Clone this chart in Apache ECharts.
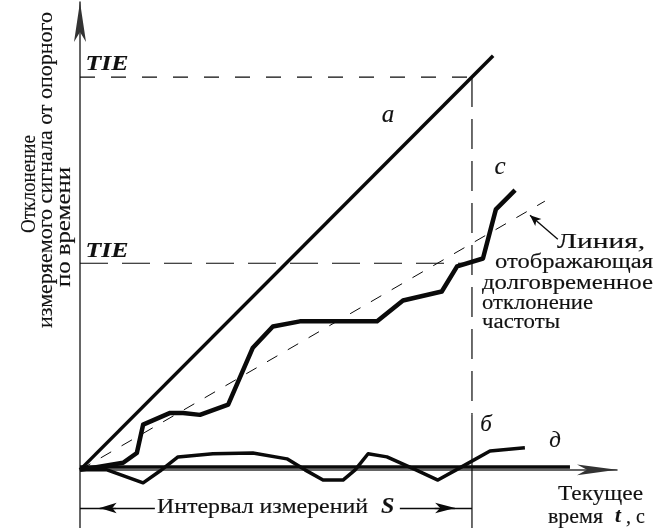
<!DOCTYPE html>
<html><head><meta charset="utf-8">
<script src="https://cdn.jsdelivr.net/npm/echarts@6/dist/echarts.min.js"></script>
<style>html,body{margin:0;padding:0;background:#fff}#c{width:656px;height:528px}</style>
</head><body><div id="c"></div>
<script>
// x: time in arbitrary units (measurement interval S = 10), y: time deviation units (TIE of line a = 10)
const lineA_x = [0, 10.54];
const lineA_y = [0, 10.54];
const curveC_x = [0, 1.10, 1.45, 1.61, 2.30, 2.63, 3.06, 3.78, 4.41, 4.92, 5.61, 7.58, 8.24, 9.23, 9.62, 10.28, 10.61, 11.10];
const curveC_y = [0, 0.18, 0.43, 1.15, 1.45, 1.45, 1.40, 1.66, 3.11, 3.65, 3.78, 3.78, 4.31, 4.54, 5.18, 5.38, 6.63, 7.12];
const curveD_x = [0, 0.69, 1.61, 2.04, 2.50, 3.39, 4.41, 5.28, 5.74, 6.20, 6.71, 7.02, 7.35, 7.83, 8.50, 9.13, 9.69, 10.46, 11.35];
const curveD_y = [0, 0, -0.33, -0.03, 0.33, 0.41, 0.43, 0.28, 0, -0.26, -0.26, 0, 0.41, 0.33, 0.03, -0.26, 0.05, 0.48, 0.56];
const lineB_x = [0, 12.5];
const lineB_y = [0.07, 0.07];
const drift_x = [0, 11.86];
const drift_y = [0, 6.84];
const intervalS = 10;
const tieLevels = [10, 5.26];
const xRange = [0, 13.70];
const yRange = [-1.48, 11.91];

function pts(xs, ys) { return xs.map((x, i) => [x, ys[i]]); }
const ink = '#0a0a0a';
const serif = '"Liberation Serif", "DejaVu Serif", serif';

const chart = echarts.init(document.getElementById('c'), null, { renderer: 'canvas' });

const measureCtx = document.createElement('canvas').getContext('2d');
function fitScale(text, fs, style, weight, target) {
  measureCtx.font = (style || 'normal') + ' ' + (weight || 'normal') + ' ' + fs + 'px ' + serif;
  const w = measureCtx.measureText(text).width;
  return target ? target / w : 1;
}
function T(text, x, y, o) {
  o = o || {};
  const fs = o.fs || 20;
  const sx = fitScale(text, fs, o.st, o.fw, o.w);
  const al = o.al || 'center';
  return {
    type: 'text', x: x, y: y, rotation: o.rot || 0, scaleX: sx, scaleY: 1, silent: true, z: 100,
    style: {
      text: text, fontFamily: serif, fontSize: fs, fontStyle: o.st || 'normal', fontWeight: o.fw || 'normal',
      fill: '#111', stroke: '#111', lineWidth: o.fw === 'bold' ? 0.1 : 0.15,
      textAlign: al, align: al, textVerticalAlign: 'middle', verticalAlign: 'middle'
    }
  };
}

const lineSeries = (name, data, width, type, z) => ({
  name: name, type: 'line', data: data, symbol: 'none', showSymbol: false, silent: true, z: z || 3,
  lineStyle: { color: ink, width: width, type: type || 'solid', cap: 'butt', join: 'round' }
});

const markY = -0.97;
const option = {
  animation: false,
  backgroundColor: '#fff',
  grid: { left: 80, right: 39, top: 2, bottom: 0 },
  xAxis: {
    type: 'value', min: xRange[0], max: xRange[1],
    axisLine: { show: true, onZero: true, symbol: ['none', 'arrow'], symbolSize: [8, 40], lineStyle: { color: '#333', width: 1.5 } },
    axisTick: { show: false }, axisLabel: { show: false }, splitLine: { show: false }
  },
  yAxis: {
    type: 'value', min: yRange[0], max: yRange[1],
    axisLine: { show: true, symbol: ['none', 'arrow'], symbolSize: [9, 40], lineStyle: { color: '#333', width: 1.5 } },
    axisTick: { show: false }, axisLabel: { show: false }, splitLine: { show: false }
  },
  series: [
    lineSeries('TIE a', [[0, tieLevels[0]], [intervalS, tieLevels[0]]], 1.2, [15, 16], 2),
    lineSeries('TIE c', [[0, tieLevels[1]], [intervalS, tieLevels[1]]], 1.2, [28, 14], 2),
    lineSeries('S dashed', [[intervalS, tieLevels[0]], [intervalS, 1.40]], 1.2, [30, 12], 2),
    Object.assign(lineSeries('S solid', [[intervalS, 1.40], [intervalS, yRange[0]]], 1.2, 'solid', 2), {
      markLine: {
        silent: true, animation: false, symbol: 'none', label: { show: false },
        lineStyle: { color: ink, width: 1.3, type: 'solid' },
        emphasis: { disabled: true },
        data: [
          [{ coord: [0, markY] }, { coord: [1.91, markY] }],
          [{ coord: [8.16, markY] }, { coord: [intervalS, markY] }],
          [{ coord: [0.92, markY], symbol: 'none' }, { coord: [0.50, markY], symbol: 'arrow', symbolSize: [8, 17] }],
          [{ coord: [9.05, markY], symbol: 'none' }, { coord: [9.57, markY], symbol: 'arrow', symbolSize: [8, 20] }],
          [{ coord: [12.19, 5.87], symbol: 'none' }, { coord: [11.48, 6.48], symbol: 'arrow', symbolSize: [7, 11] }]
        ]
      }
    }),
    lineSeries('drift', pts(drift_x, drift_y), 1, [12, 12], 2),
    lineSeries('б', pts(lineB_x, lineB_y), 3.5, 'solid', 4),
    lineSeries('a', pts(lineA_x, lineA_y), 3.5, 'solid', 5),
    lineSeries('c', pts(curveC_x, curveC_y), 4.5, 'solid', 5),
    lineSeries('д', pts(curveD_x, curveD_y), 3.5, 'solid', 5)
  ],
  graphic: [
    T('Отклонение', 30, 184, { rot: Math.PI / 2, w: 98 }),
    T('измеряемого сигнала от опорного', 47, 170, { rot: Math.PI / 2, w: 316 }),
    T('по времени', 65, 227, { rot: Math.PI / 2, w: 120 }),
    T('TIE', 107, 65, { st: 'italic', fw: 'bold', fs: 21, w: 43 }),
    T('TIE', 107, 252, { st: 'italic', fw: 'bold', fs: 21, w: 43 }),
    T('a', 388, 115, { st: 'italic', fs: 25 }),
    T('c', 500, 167, { st: 'italic', fs: 25 }),
    T('б', 486, 425, { st: 'italic', fs: 23 }),
    T('д', 555, 441, { st: 'italic', fs: 23 }),
    T('Линия,', 557, 243, { al: 'left', w: 88 }),
    T('отображающая', 495, 263, { al: 'left', w: 158 }),
    T('долговременное', 482, 284, { al: 'left', w: 171 }),
    T('отклонение', 482, 304, { al: 'left', w: 111 }),
    T('частоты', 482, 323, { al: 'left', w: 78 }),
    T('Текущее', 558, 495, { al: 'left', w: 85 }),
    T('время', 548, 518, { al: 'left', w: 55 }),
    T('t', 615, 517, { al: 'left', st: 'italic', fw: 'bold', fs: 21 }),
    T(', с', 626, 518, { al: 'left' }),
    T('Интервал измерений', 157, 508, { al: 'left', w: 211 }),
    T('S', 381, 507, { al: 'left', st: 'italic', fw: 'bold', fs: 24 })
  ]
};
chart.setOption(option);
</script>
</body></html>
